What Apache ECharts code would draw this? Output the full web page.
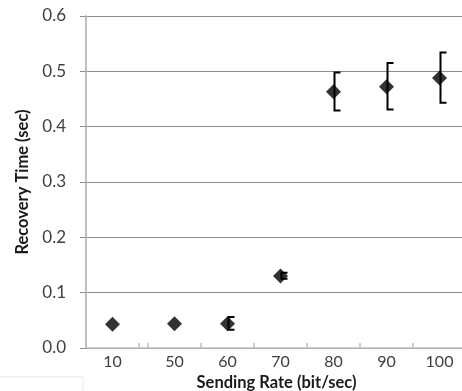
<!DOCTYPE html>
<html>
<head>
<meta charset="utf-8">
<script src="https://cdn.jsdelivr.net/npm/echarts@6/dist/echarts.min.js"></script>
<style>
  html, body { margin: 0; padding: 0; background: #fff; }
  #chart { width: 462px; height: 391px; }
</style>
</head>
<body>
<div id="chart"></div>
<script>
// sending rate (bit/sec), first one sits before the axis break
const rates = ['10', '50', '60', '70', '80', '90', '100']
const recovery = [0.043, 0.044, 0.044, 0.130, 0.463, 0.472, 0.488]
const errLow = [null, null, 0.033, 0.125, 0.429, 0.431, 0.443]
const errHigh = [null, null, 0.056, 0.136, 0.498, 0.515, 0.534]
const yTicks = [0, 0.1, 0.2, 0.3, 0.4, 0.5, 0.6]

const font = 'Lato, "Open Sans", sans-serif'
const gridCol = '#8c8c8c'
const axisCol = '#bfbfbf'
const labelCol = '#404040'

// split at the break: grid 1 holds the first rate, grid 2 the rest
const leftCats = rates.slice(0, 1)
const rightCats = rates.slice(1)

function points(from, to) {
  const out = []
  for (let i = from; i < to; i++) out.push([i - from, recovery[i]])
  return out
}
function bars(from, to) {
  const out = []
  for (let i = from; i < to; i++) {
    if (errLow[i] == null) continue
    out.push([i - from, errLow[i], errHigh[i]])
  }
  return out
}

// bracket shaped error bar, caps open to the right
function renderBracket(params, api) {
  const lo = api.coord([api.value(0), api.value(1)])
  const hi = api.coord([api.value(0), api.value(2)])
  const x = lo[0] + 1
  const cap = 6
  return {
    type: 'polyline',
    shape: { points: [[x + cap, hi[1]], [x, hi[1]], [x, lo[1]], [x + cap, lo[1]]] },
    style: { stroke: '#000', lineWidth: 2, fill: null }
  }
}

const hiddenY = (idx) => ({
  type: 'value', gridIndex: idx, min: 0, max: 0.6, interval: 0.1,
  show: false, splitLine: { show: false }
})

const catAxis = (idx, cats) => ({
  type: 'category', gridIndex: idx, data: cats,
  axisLine: { show: false },
  axisTick: { show: true, inside: true, length: 5, lineStyle: { color: axisCol, width: 1.5 } },
  axisLabel: { margin: 6, fontFamily: font, fontSize: 16, color: labelCol }
})

const chart = echarts.init(document.getElementById('chart'))
chart.setOption({
  animation: false,
  grid: [
    { left: 86, top: 16, width: 381, height: 332, outerBoundsMode: 'none' },
    { left: 86, top: 16, width: 53, height: 332, outerBoundsMode: 'none' },
    { left: 148, top: 16, width: 318, height: 332, outerBoundsMode: 'none' }
  ],
  xAxis: [
    {
      type: 'category', gridIndex: 0, data: [''],
      name: 'Sending Rate (bit/sec)', nameLocation: 'middle', nameGap: 26,
      nameTextStyle: { fontFamily: font, fontSize: 16.5, fontWeight: 'bold', color: '#1a1a1a' },
      axisLine: { show: true, lineStyle: { color: axisCol, width: 1.5 } },
      axisTick: { show: false },
      axisLabel: { show: false },
      splitLine: { show: false }
    },
    catAxis(1, leftCats),
    catAxis(2, rightCats)
  ],
  yAxis: [
    {
      type: 'value', gridIndex: 0, min: yTicks[0], max: yTicks[yTicks.length - 1], interval: 0.1,
      name: 'Recovery Time (sec)', nameLocation: 'middle', nameGap: 51,
      nameTextStyle: { fontFamily: font, fontSize: 16.5, fontWeight: 'bold', color: '#1a1a1a' },
      axisLine: { show: true, lineStyle: { color: axisCol, width: 2 } },
      axisTick: { show: true, length: 6, lineStyle: { color: gridCol } },
      axisLabel: { margin: 20, fontFamily: font, fontSize: 17, color: labelCol, formatter: v => v.toFixed(1) },
      splitLine: { show: true, lineStyle: { color: gridCol, width: 1 } }
    },
    hiddenY(1),
    hiddenY(2)
  ],
  series: [
    {
      type: 'custom', xAxisIndex: 1, yAxisIndex: 1, data: bars(0, 1),
      renderItem: renderBracket, z: 3
    },
    {
      type: 'custom', xAxisIndex: 2, yAxisIndex: 2, data: bars(1, rates.length),
      renderItem: renderBracket, z: 3
    },
    {
      type: 'scatter', xAxisIndex: 1, yAxisIndex: 1, data: points(0, 1),
      symbol: 'diamond', symbolSize: 15, itemStyle: { color: '#000' }, z: 4
    },
    {
      type: 'scatter', xAxisIndex: 2, yAxisIndex: 2, data: points(1, rates.length),
      symbol: 'diamond', symbolSize: 15, itemStyle: { color: '#000' }, z: 4
    }
  ],
  graphic: [
    { type: 'polyline', shape: { points: [[0, 377], [83, 377], [83, 391]] }, style: { stroke: '#e8e8e8', lineWidth: 1, fill: null } }
  ]
})
</script>
</body>
</html>
